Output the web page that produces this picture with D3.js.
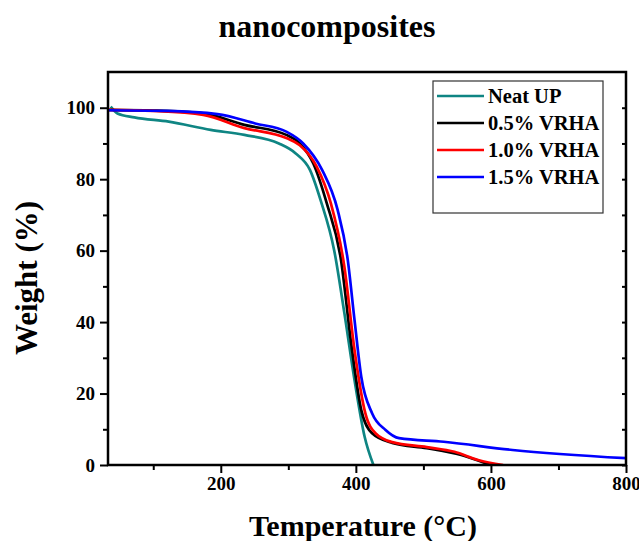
<!DOCTYPE html>
<html>
<head>
<meta charset="utf-8">
<script src="https://cdn.jsdelivr.net/npm/d3@7"></script>
<style>
  body { margin: 0; background: #fff; }
  svg { font-family: "Liberation Serif", "Times New Roman", serif; font-weight: bold; }
</style>
</head>
<body>
<div id="chart"></div>
<script>
//~~~~~~~~~~~~~~~~~~~~~~~~~~~~~~~~~~~~
// Data
//~~~~~~~~~~~~~~~~~~~~~~~~~~~~~~~~~~~~
const seriesNames = ["Neat UP", "0.5% VRHA", "1.0% VRHA", "1.5% VRHA"];
const seriesColors = ["#0f8583", "#000000", "#ff0000", "#0000ff"];

const neatUP = [
    [37, 100.3], [47, 98.4], [72, 97.3], [123, 96.1], [185, 93.8], [235, 92.4],
    [286, 90.0], [311, 87.2], [332, 82.6], [348, 74.0], [368, 60.0], [383, 42.5],
    [398, 23.8], [413, 7.9], [426, 0]
];
const vrha05 = [
    [33, 99.4], [100, 99.2], [174, 98.4], [235, 95.2], [297, 92.4], [317, 90.0],
    [337, 84.4], [357, 73.2], [378, 57.4], [393, 34.1], [408, 15.4], [424, 8.9],
    [454, 6.2], [505, 4.7], [556, 2.8], [599, 0]
];
const vrha10 = [
    [33, 99.4], [100, 99.1], [174, 98.0], [235, 94.3], [297, 91.5], [317, 89.5],
    [342, 83.5], [363, 73.2], [383, 55.5], [398, 32.2], [414, 14.5], [429, 8.9],
    [454, 6.4], [505, 5.0], [546, 3.7], [581, 1.4], [618, 0]
];
const vrha15 = [
    [33, 99.3], [120, 99.1], [195, 98.2], [251, 95.6], [297, 93.3], [322, 90.0],
    [350, 82.6], [373, 71.4], [388, 57.4], [398, 40.6], [408, 24.7], [424, 14.5],
    [444, 9.8], [464, 7.5], [530, 6.5], [632, 4.2], [800, 1.9]
];
const allSeries = [neatUP, vrha05, vrha10, vrha15];

const xMajorTicks = [200, 400, 600, 800];
const xMinorTicks = [100, 300, 500, 700];
const yMajorTicks = [0, 20, 40, 60, 80, 100];
const yMinorTicks = [10, 30, 50, 70, 90];

//~~~~~~~~~~~~~~~~~~~~~~~~~~~~~~~~~~~~
// Chart
//~~~~~~~~~~~~~~~~~~~~~~~~~~~~~~~~~~~~
function createChart() {
    const width = 639, height = 541;
    const margin = {left: 108, right: 13, top: 72, bottom: 76};

    const x = d3.scaleLinear().domain([33, 800]).range([margin.left, width - margin.right]);
    const y = d3.scaleLinear().domain([0, 110]).range([height - margin.bottom, margin.top]);

    const svg = d3.select("#chart").append("svg")
        .attr("width", width)
        .attr("height", height);

    svg.append("defs").append("clipPath").attr("id", "plot-clip")
        .append("rect")
        .attr("x", x.range()[0]).attr("y", y.range()[1])
        .attr("width", x.range()[1] - x.range()[0])
        .attr("height", y.range()[0] - y.range()[1]);

    // curves
    const line = d3.line()
        .x(d => x(d[0]))
        .y(d => y(d[1]))
        .curve(d3.curveMonotoneX);

    svg.append("g").attr("clip-path", "url(#plot-clip)")
        .selectAll("path")
        .data(allSeries)
        .join("path")
        .attr("d", line)
        .attr("fill", "none")
        .attr("stroke", (d, i) => seriesColors[i])
        .attr("stroke-width", 2.7);

    // axes
    svg.append("g")
        .attr("transform", `translate(0,${y(0)})`)
        .call(d3.axisBottom(x).tickValues(xMajorTicks).tickSize(8).tickPadding(4));
    svg.append("g")
        .attr("transform", `translate(0,${y(0)})`)
        .call(d3.axisBottom(x).tickValues(xMinorTicks).tickSize(5).tickFormat(""));

    svg.append("g")
        .attr("transform", `translate(${x(33)},0)`)
        .call(d3.axisLeft(y).tickValues(yMajorTicks).tickSize(8).tickPadding(5));
    svg.append("g")
        .attr("transform", `translate(${x(33)},0)`)
        .call(d3.axisLeft(y).tickValues(yMinorTicks).tickSize(5).tickFormat(""));

    // right side, ticks pointing in
    svg.append("g")
        .attr("transform", `translate(${x(800)},0)`)
        .call(d3.axisLeft(y).tickValues(yMajorTicks.concat(yMinorTicks)).tickSize(4).tickFormat(""));

    svg.selectAll(".domain").remove();
    svg.selectAll(".tick line").attr("stroke", "#000").attr("stroke-width", 2);
    svg.selectAll(".tick text")
        .attr("fill", "#000")
        .style("font-family", "'Liberation Serif', serif")
        .style("font-weight", "bold")
        .style("font-size", "19px");

    // frame
    svg.append("rect")
        .attr("x", x(33)).attr("y", y(110))
        .attr("width", x(800) - x(33))
        .attr("height", y(0) - y(110))
        .attr("fill", "none")
        .attr("stroke", "#000")
        .attr("stroke-width", 2.5);

    // titles
    svg.append("text")
        .attr("x", 327).attr("y", 37)
        .attr("text-anchor", "middle")
        .style("font-size", "32px")
        .text("nanocomposites");

    svg.append("text")
        .attr("x", 363).attr("y", 536)
        .attr("text-anchor", "middle")
        .style("font-size", "30px")
        .text("Temperature (°C)");

    svg.append("text")
        .attr("transform", "translate(37,278) rotate(-90)")
        .attr("text-anchor", "middle")
        .style("font-size", "31px")
        .text("Weight (%)");

    // legend
    const legend = svg.append("g");
    legend.append("rect")
        .attr("x", 433).attr("y", 81)
        .attr("width", 170).attr("height", 132)
        .attr("fill", "#fff")
        .attr("stroke", "#333")
        .attr("stroke-width", 1.2);

    const rows = legend.selectAll("g.row")
        .data(seriesNames)
        .join("g")
        .attr("class", "row")
        .attr("transform", (d, i) => `translate(0,${96 + i * 27})`);

    rows.append("line")
        .attr("x1", 437).attr("x2", 484)
        .attr("stroke", (d, i) => seriesColors[i])
        .attr("stroke-width", 2.7);

    rows.append("text")
        .attr("x", 488).attr("y", 7)
        .style("font-size", "20.5px")
        .text(d => d);
}

createChart();
</script>
</body>
</html>
